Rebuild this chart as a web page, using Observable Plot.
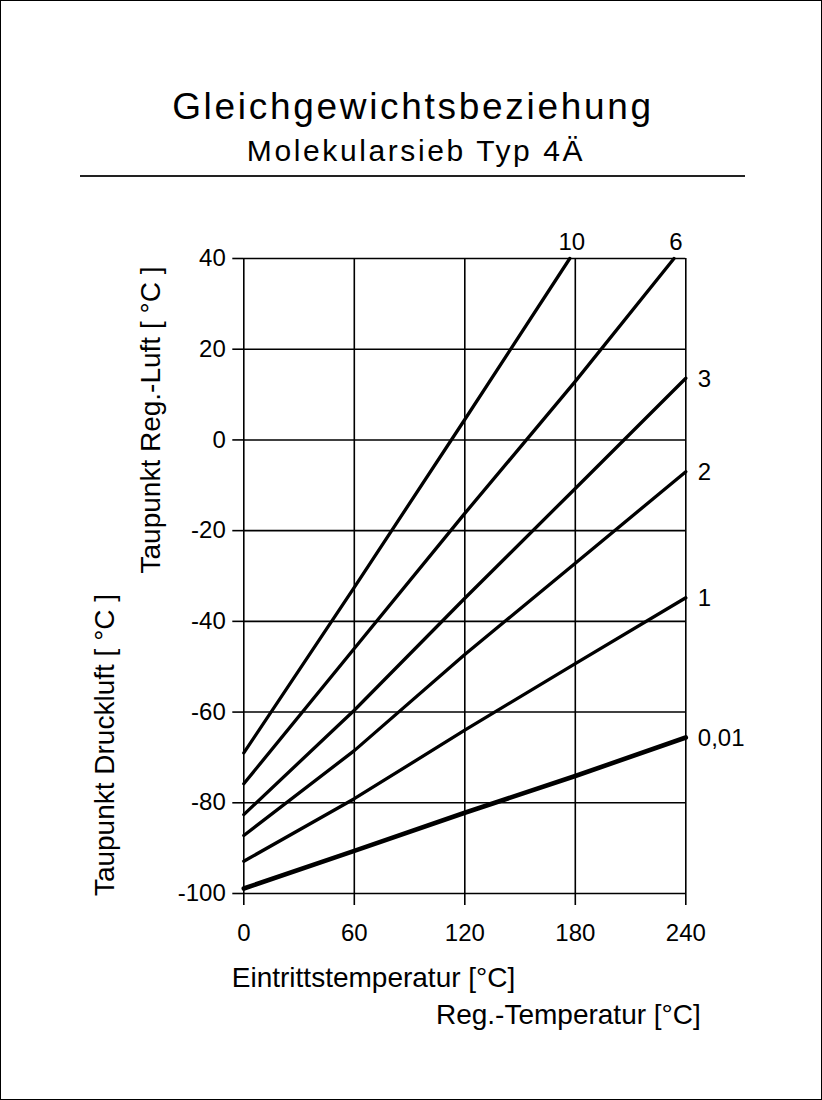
<!DOCTYPE html>
<html>
<head>
<meta charset="utf-8">
<script src="https://cdn.jsdelivr.net/npm/d3@7"></script>
<script src="https://cdn.jsdelivr.net/npm/@observablehq/plot@0.6"></script>
<style>
  html, body { margin: 0; padding: 0; background: #fff; }
  #page { position: relative; width: 822px; height: 1100px; overflow: hidden; background: #fff;
          font-family: "Liberation Sans", Arial, Helvetica, sans-serif; color: #000; }
  #border { position: absolute; left: 0; top: 0; width: 822px; height: 1100px; box-sizing: border-box;
            border: 1px solid #000; pointer-events: none; }
  .title { position: absolute; left: 0; width: 822px; text-align: center; white-space: nowrap; }
  #t1 { top: 88px; font-size: 37px; line-height: 37px; letter-spacing: 2.7px; left: 2px; }
  #t2 { top: 136px; font-size: 30px; line-height: 30px; letter-spacing: 2.6px; left: 5px; }
  #rule { position: absolute; left: 80px; width: 665px; top: 175px; height: 2px; background: #222; }
  #chart { position: absolute; left: 0; top: 190px; }
</style>
</head>
<body>
<div id="page">
  <div class="title" id="t1">Gleichgewichtsbeziehung</div>
  <div class="title" id="t2">Molekularsieb Typ 4Ä</div>
  <div id="rule"></div>
  <div id="chart"></div>
  <div id="border"></div>
</div>
<script>
// Tick values
const xTicks = [0, 60, 120, 180, 240];
const yTicks = [-100, -80, -60, -40, -20, 0, 20, 40];

// Series (curve parameter labels) and their read-off points
const seriesNames = ["10", "6", "3", "2", "1", "0,01"];
const x10 = [0, 60, 120, 177];
const y10 = [-69, -32.5, 4.5, 40];
const x6 = [0, 60, 120, 180, 233.6];
const y6 = [-75.8, -46, -16.2, 12.9, 40];
const x3 = [0, 60, 120, 180, 240];
const y3 = [-82.6, -59.6, -34.9, -10.7, 13.6];
const x2 = [0, 60, 120, 180, 240];
const y2 = [-87.2, -68.5, -47.3, -27.2, -7];
const x1 = [0, 60, 120, 180, 240];
const y1 = [-92.9, -79.1, -64, -49.3, -34.8];
const x001 = [0, 60, 120, 180, 240];
const y001 = [-98.9, -90.6, -82.2, -74.1, -65.6];

const xs = [x10, x6, x3, x2, x1, x001];
const ys = [y10, y6, y3, y2, y1, y001];

const data = [];
seriesNames.forEach((s, i) => {
  xs[i].forEach((x, j) => data.push({series: s, x, y: ys[i][j]}));
});
const labels = seriesNames.map((s, i) => ({
  series: s,
  x: xs[i][xs[i].length - 1],
  y: ys[i][ys[i].length - 1]
}));
const topLabels = labels.filter(d => d.y >= 40);
const rightLabels = labels.filter(d => d.y < 40);

const font = "'Liberation Sans', Arial, Helvetica, sans-serif";

const chart = Plot.plot({
  width: 822,
  height: 860,
  marginTop: 68,
  marginBottom: 157,
  marginLeft: 243.3,
  marginRight: 136.7,
  x: {domain: [0, 240]},
  y: {domain: [-100, 40]},
  style: {fontFamily: font, fontSize: "24px", color: "#000", background: "#fff", overflow: "visible"},
  marks: [
    Plot.ruleX(xTicks, {stroke: "#000", strokeWidth: 1.6}),
    Plot.ruleY(yTicks, {stroke: "#000", strokeWidth: 1.6}),
    Plot.axisX({ticks: xTicks, tickSize: 12, tickPadding: 18, tickFormat: d => String(d),
                label: null, fontSize: 24, strokeWidth: 1.6, stroke: "#000", fill: "#000"}),
    Plot.axisY({ticks: yTicks, tickSize: 11, tickPadding: 7, tickFormat: d => String(d),
                label: null, fontSize: 24, strokeWidth: 1.6, stroke: "#000", fill: "#000"}),
    Plot.line(data.filter(d => d.series !== "0,01"), {x: "x", y: "y", z: "series", stroke: "#000", strokeWidth: 3.3}),
    Plot.line(data.filter(d => d.series === "0,01"), {x: "x", y: "y", z: "series", stroke: "#000", strokeWidth: 4.6}),
    Plot.text(topLabels, {x: "x", y: "y", text: "series", textAnchor: "middle", lineAnchor: "bottom",
                          dx: 2, dy: -9, fontSize: 24, fill: "#000"}),
    Plot.text(rightLabels, {x: "x", y: "y", text: "series", textAnchor: "start", lineAnchor: "middle",
                            dx: 12, dy: 1, fontSize: 24, fill: "#000"}),
    Plot.text(["Eintrittstemperatur [°C]"], {frameAnchor: "bottom-left", textAnchor: "start", lineAnchor: "middle",
                                            dx: -12, dy: 85, fontSize: 28, fill: "#000"}),
    Plot.text(["Reg.-Temperatur [°C]"], {frameAnchor: "bottom-right", textAnchor: "end", lineAnchor: "middle",
                                        dx: 15, dy: 122, fontSize: 28, fill: "#000"}),
    Plot.text(["Taupunkt Reg.-Luft [ °C ]"], {frameAnchor: "left", rotate: -90, textAnchor: "middle", lineAnchor: "middle",
                                             dx: -93, dy: -156, fontSize: 28, fill: "#000"}),
    Plot.text(["Taupunkt Druckluft [ °C ]"], {frameAnchor: "left", rotate: -90, textAnchor: "middle", lineAnchor: "middle",
                                             dx: -139, dy: 169, fontSize: 28, fill: "#000"})
  ]
});
document.getElementById("chart").appendChild(chart);
</script>
</body>
</html>
